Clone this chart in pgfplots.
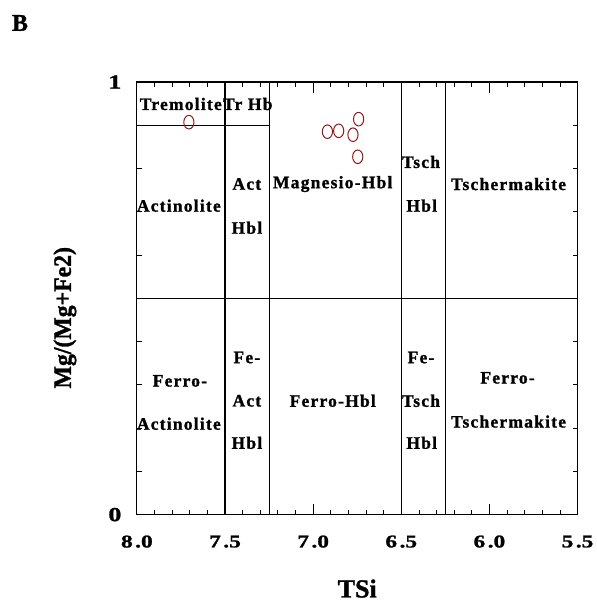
\documentclass[border=0pt]{standalone}
\usepackage{fontspec}
\setmainfont{Liberation Serif}
\newfontfamily\lsfont[LetterSpace=7, FakeBold=1.2]{Liberation Serif}
\newfontfamily\wfont[FakeStretch=1.3, FakeBold=1.2]{Liberation Serif}
\newfontfamily\nfont[FakeStretch=0.95, FakeBold=1.2]{Liberation Serif}
\newfontfamily\bfont[FakeBold=1.2]{Liberation Serif}
\usepackage{pgfplots}
\pgfplotsset{compat=1.18}
\definecolor{ptred}{RGB}{150,22,22}
\newcommand{\rl}{\lsfont\bfseries\fontsize{17.5bp}{20bp}\selectfont}
\begin{document}
\begin{tikzpicture}
\path (-137bp,-86bp) rectangle (456bp,515bp);
\node[font=\bfont\bfseries\fontsize{24bp}{26bp}\selectfont] at (-117bp,492bp) {B};
\begin{axis}[
  at={(0,0)}, anchor=south west,
  scale only axis, width=441bp, height=433bp,
  xmin=5.5, xmax=8, ymin=0, ymax=1,
  x dir=reverse,
  clip=false,
  axis line style={line width=1.2bp},
  xtick={8,7.5,7,6.5,6,5.5},
  xticklabels={8\kern2.5pt.0,7\kern2.5pt.5,7\kern2.5pt.0,6\kern2.5pt.5,6\kern2.5pt.0,5\kern2.5pt.5},
  minor x tick num=4,
  ytick={0,1},
  yticklabels={0,1},
  minor y tick num=9,
  tick align=inside,
  major tick length=11bp,
  minor tick length=5bp,
  every tick/.style={black, line width=0.8bp},
  xticklabel style={font=\wfont\bfseries\fontsize{18bp}{20bp}\selectfont, anchor=center, yshift=-27bp},
  yticklabel style={font=\wfont\bfseries\fontsize{20bp}{22bp}\selectfont, anchor=center, xshift=-22bp},
  xlabel={TSi},
  ylabel={Mg/(Mg+Fe2)},
  xlabel style={font=\bfont\bfseries\fontsize{26bp}{28bp}\selectfont, at={(axis description cs:0.5,0)}, anchor=center, yshift=-74bp},
  ylabel style={font=\nfont\bfseries\fontsize{25bp}{27bp}\selectfont, at={(axis description cs:0,0.455)}, anchor=center, yshift=72bp},
]
% field boundaries
\addplot[black, line width=1.1bp] coordinates {(7.5,0) (7.5,1)};
\addplot[black, line width=1.1bp] coordinates {(7.25,0) (7.25,1)};
\addplot[black, line width=1.1bp] coordinates {(6.5,0) (6.5,1)};
\addplot[black, line width=1.1bp] coordinates {(6.25,0) (6.25,1)};
\addplot[black, line width=1.1bp] coordinates {(8,0.5) (5.5,0.5)};
\addplot[black, line width=1.1bp] coordinates {(8,0.9) (7.25,0.9)};
% data
\addplot[only marks, mark=o, mark size=6.8bp, mark options={xscale=0.75, ptred, line width=1bp}] coordinates {
(7.705,0.907) (6.919,0.885) (6.855,0.887) (6.742,0.914) (6.774,0.878) (6.747,0.827)
};
% field names
\node[font=\rl] at (axis cs:7.751,0.949) {Tremolite};
\node[font=\rl] at (axis cs:7.371,0.949) {Tr Hb};
\node[font=\rl] at (axis cs:7.762,0.714) {Actinolite};
\node[font=\rl] at (axis cs:7.376,0.764) {Act};
\node[font=\rl] at (axis cs:7.376,0.663) {Hbl};
\node[font=\rl] at (axis cs:6.889,0.764) {Magnesio-Hbl};
\node[font=\rl] at (axis cs:6.388,0.815) {Tsch};
\node[font=\rl] at (axis cs:6.384,0.714) {Hbl};
\node[font=\rl] at (axis cs:5.891,0.764) {Tschermakite};
\node[font=\rl] at (axis cs:7.756,0.309) {Ferro-};
\node[font=\rl] at (axis cs:7.762,0.210) {Actinolite};
\node[font=\rl] at (axis cs:7.376,0.363) {Fe-};
\node[font=\rl] at (axis cs:7.376,0.263) {Act};
\node[font=\rl] at (axis cs:7.376,0.166) {Hbl};
\node[font=\rl] at (axis cs:6.889,0.263) {Ferro-Hbl};
\node[font=\rl] at (axis cs:6.388,0.363) {Fe-};
\node[font=\rl] at (axis cs:6.388,0.263) {Tsch};
\node[font=\rl] at (axis cs:6.384,0.166) {Hbl};
\node[font=\rl] at (axis cs:5.897,0.316) {Ferro-};
\node[font=\rl] at (axis cs:5.891,0.215) {Tschermakite};
\end{axis}
\end{tikzpicture}
\end{document}
